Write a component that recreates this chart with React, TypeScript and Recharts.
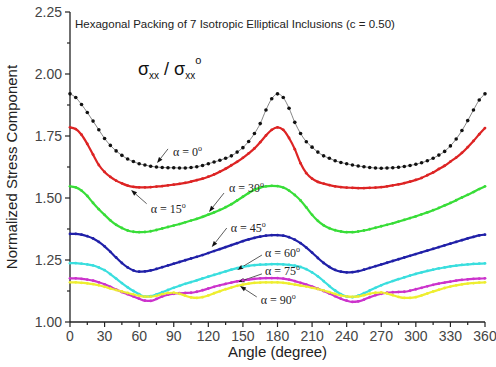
import React from "react";
import { LineChart, Line, XAxis, YAxis, ReferenceLine, Label } from "recharts";

// sample positions (degree)
const angles = [
  0, 5, 10, 15, 20, 25, 30, 35, 40, 45, 50, 55,
  60, 65, 70, 75, 80, 85, 90, 95, 100, 105, 110, 115,
  120, 125, 130, 135, 140, 145, 150, 155, 160, 165, 170, 175,
  180, 185, 190, 195, 200, 205, 210, 215, 220, 225, 230, 235,
  240, 245, 250, 255, 260, 265, 270, 275, 280, 285, 290, 295,
  300, 305, 310, 315, 320, 325, 330, 335, 340, 345, 350, 355,
  360,
];

const alpha0 = [
  1.92, 1.905, 1.877, 1.845, 1.81, 1.775, 1.74, 1.712, 1.69, 1.672, 1.657, 1.647,
  1.638, 1.633, 1.628, 1.625, 1.623, 1.622, 1.622, 1.621, 1.621, 1.623, 1.626, 1.631,
  1.638, 1.645, 1.652, 1.66, 1.67, 1.685, 1.703, 1.728, 1.76, 1.8, 1.855, 1.9,
  1.92, 1.905, 1.862, 1.805, 1.76, 1.727, 1.705, 1.685, 1.67, 1.66, 1.65, 1.643,
  1.638, 1.633, 1.629, 1.626, 1.623, 1.621, 1.62, 1.621, 1.622, 1.624, 1.627, 1.631,
  1.636, 1.642, 1.65, 1.66, 1.673, 1.688, 1.71, 1.738, 1.772, 1.812, 1.855, 1.895,
  1.92,
];

const alpha15 = [
  1.785, 1.778, 1.755, 1.718, 1.675, 1.633, 1.605, 1.585, 1.57, 1.559, 1.55, 1.545,
  1.543, 1.543, 1.544, 1.546, 1.548, 1.551, 1.554, 1.557, 1.561, 1.566, 1.572, 1.578,
  1.586, 1.595, 1.606, 1.618, 1.632, 1.646, 1.662, 1.68, 1.7, 1.725, 1.752, 1.775,
  1.785, 1.775, 1.742, 1.697, 1.64, 1.6, 1.578, 1.565, 1.558, 1.552, 1.547, 1.544,
  1.542, 1.541, 1.54, 1.54, 1.541, 1.542, 1.544, 1.547, 1.551, 1.555, 1.56, 1.566,
  1.573, 1.581, 1.592, 1.603, 1.617, 1.63, 1.647, 1.663, 1.682, 1.705, 1.73, 1.757,
  1.782,
];

const alpha30 = [
  1.547, 1.543, 1.53, 1.508, 1.48, 1.455, 1.432, 1.41, 1.392, 1.379, 1.369, 1.364,
  1.362, 1.363, 1.366, 1.371, 1.377, 1.383, 1.389, 1.395, 1.402, 1.409, 1.416, 1.424,
  1.433, 1.442, 1.452, 1.463, 1.475, 1.49, 1.505, 1.52, 1.533, 1.542, 1.547, 1.549,
  1.548, 1.542, 1.53, 1.512, 1.49, 1.462, 1.432, 1.408, 1.39, 1.378, 1.37, 1.365,
  1.362, 1.362, 1.365, 1.369, 1.374, 1.38, 1.386, 1.392, 1.398, 1.405, 1.412, 1.419,
  1.426, 1.434, 1.442, 1.451, 1.46, 1.47, 1.48, 1.491, 1.502, 1.513, 1.524, 1.536,
  1.547,
];

const alpha45 = [
  1.355, 1.355, 1.352, 1.346, 1.337, 1.323, 1.305, 1.283, 1.26, 1.238, 1.22, 1.208,
  1.203, 1.204, 1.208, 1.214, 1.221, 1.228, 1.235, 1.242, 1.249, 1.256, 1.263, 1.27,
  1.278, 1.286, 1.294, 1.302, 1.31, 1.318, 1.326, 1.333, 1.339, 1.344, 1.348, 1.35,
  1.35, 1.348, 1.342, 1.332, 1.318, 1.3, 1.28, 1.258, 1.238, 1.222, 1.21, 1.203,
  1.2, 1.201, 1.205, 1.211, 1.218, 1.225, 1.232, 1.239, 1.246, 1.253, 1.26, 1.267,
  1.274, 1.281, 1.288, 1.295, 1.302, 1.309, 1.316, 1.323, 1.33, 1.337, 1.343, 1.349,
  1.352,
];

const alpha60 = [
  1.237, 1.237, 1.235, 1.232, 1.228, 1.22, 1.209, 1.193, 1.175, 1.157, 1.14, 1.125,
  1.112, 1.102, 1.104, 1.111, 1.12, 1.129, 1.138, 1.146, 1.154, 1.161, 1.168, 1.176,
  1.183, 1.19, 1.197, 1.204, 1.211, 1.217, 1.222, 1.226, 1.229, 1.231, 1.232, 1.233,
  1.233, 1.232, 1.23, 1.227, 1.222, 1.213, 1.2, 1.184, 1.165, 1.145, 1.127, 1.112,
  1.103, 1.1, 1.106, 1.116, 1.127, 1.138, 1.148, 1.157, 1.165, 1.173, 1.18, 1.187,
  1.194, 1.2, 1.206, 1.211, 1.216, 1.22, 1.224, 1.227, 1.23, 1.232, 1.234, 1.235,
  1.236,
];

const alpha75 = [
  1.176, 1.176, 1.174, 1.171, 1.167, 1.16, 1.152, 1.142, 1.131, 1.121, 1.112, 1.103,
  1.094, 1.086, 1.085, 1.093, 1.103, 1.11, 1.114, 1.116, 1.117, 1.118, 1.122, 1.128,
  1.135, 1.142, 1.148, 1.154, 1.159, 1.164, 1.168, 1.171, 1.174, 1.176, 1.177, 1.177,
  1.177, 1.175, 1.171, 1.165, 1.158, 1.151, 1.143, 1.134, 1.125, 1.115, 1.104, 1.094,
  1.086, 1.081, 1.083, 1.09, 1.1, 1.108, 1.114, 1.118, 1.12, 1.121, 1.122, 1.126,
  1.132, 1.138, 1.144, 1.15, 1.155, 1.159, 1.163, 1.167, 1.17, 1.172, 1.174, 1.175,
  1.176,
];

const alpha90 = [
  1.16, 1.16, 1.158, 1.156, 1.153, 1.148, 1.142, 1.135, 1.129, 1.123, 1.117, 1.111,
  1.106, 1.102, 1.102, 1.106, 1.112, 1.117, 1.118, 1.114, 1.106, 1.099, 1.097, 1.1,
  1.107, 1.116, 1.124, 1.132, 1.139, 1.146, 1.151, 1.155, 1.158, 1.159, 1.16, 1.16,
  1.16, 1.158, 1.155, 1.151, 1.147, 1.143, 1.138, 1.133, 1.127, 1.12, 1.113, 1.107,
  1.103, 1.101, 1.103, 1.108, 1.114, 1.118, 1.119, 1.115, 1.108, 1.101, 1.097, 1.097,
  1.1, 1.107, 1.115, 1.123, 1.13, 1.137, 1.143, 1.148, 1.152, 1.155, 1.157, 1.159,
  1.16,
];

const xTicks = [0, 15, 30, 45, 60, 75, 90, 105, 120, 135, 150, 165, 180, 195, 210, 225, 240, 255, 270, 285, 300, 315, 330, 345, 360];
const yTicks = [1, 1.125, 1.25, 1.375, 1.5, 1.625, 1.75, 1.875, 2, 2.125, 2.25];

const series = [
  { key: "a0", values: alpha0, color: "#111111" },
  { key: "a15", values: alpha15, color: "#dd2424" },
  { key: "a30", values: alpha30, color: "#38dd38" },
  { key: "a45", values: alpha45, color: "#2020a8" },
  { key: "a60", values: alpha60, color: "#3adede" },
  { key: "a75", values: alpha75, color: "#cc33cc" },
  { key: "a90", values: alpha90, color: "#eeee30" },
];

// arrow labels: tail/head in data coords, text offset from tail in px
const notes = [
  { text: "0", tail: [85, 1.698], head: [75.5, 1.641], dx: 5, dy: 3 },
  { text: "15", tail: [66.5, 1.477], head: [53, 1.532], dx: 4, dy: 5 },
  { text: "30", tail: [133.6, 1.52], head: [120.6, 1.444], dx: 5, dy: -5 },
  { text: "45", tail: [136, 1.379], head: [123, 1.302], dx: 4, dy: 0 },
  { text: "60", tail: [166.5, 1.27], head: [145, 1.21], dx: 3, dy: -2 },
  { text: "75", tail: [166.5, 1.194], head: [146, 1.161], dx: 3, dy: -3 },
  { text: "90", tail: [162, 1.101], head: [147.5, 1.145], dx: 4, dy: 3 },
];

const data = angles.map((a, i) => {
  const row: any = { angle: a };
  series.forEach((s) => (row[s.key] = s.values[i]));
  return row;
});

const XTick = (p: any) => {
  const v = p.payload.value;
  const major = v % 30 === 0;
  return (
    <g>
      <line x1={p.x} x2={p.x} y1={p.y} y2={p.y + (major ? 5 : 3)} stroke="#222" strokeWidth={1.2} />
      {major && (
        <text x={p.x} y={p.y + 19} textAnchor="middle" fontSize={14} fill="#444" fontFamily="Liberation Sans, Arial">
          {v}
        </text>
      )}
    </g>
  );
};

const YTick = (p: any) => {
  const v = p.payload.value;
  const major = Math.abs(v * 4 - Math.round(v * 4)) < 1e-6;
  return (
    <g>
      <line x1={p.x} x2={p.x - (major ? 5 : 3)} y1={p.y} y2={p.y} stroke="#222" strokeWidth={1.2} />
      {major && (
        <text x={p.x - 8} y={p.y + 5} textAnchor="end" fontSize={14} fill="#444" fontFamily="Liberation Sans, Arial">
          {v.toFixed(2)}
        </text>
      )}
    </g>
  );
};

const Arrow = (p: any) => {
  const { x1, y1, x2, y2, note } = p;
  const a = Math.atan2(y2 - y1, x2 - x1);
  const bx = x2 - 6 * Math.cos(a);
  const by = y2 - 6 * Math.sin(a);
  const w = 2.2;
  const pts = `${x2},${y2} ${bx - w * Math.sin(a)},${by + w * Math.cos(a)} ${bx + w * Math.sin(a)},${by - w * Math.cos(a)}`;
  return (
    <g>
      <line x1={x1} y1={y1} x2={bx} y2={by} stroke="#333" strokeWidth={0.8} />
      <polygon points={pts} fill="#111" />
      <text x={x1 + note.dx} y={y1 + note.dy + 4} fontSize={12} fontFamily="Liberation Serif, Times New Roman" fill="#222">
        α = {note.text}
        <tspan fontSize={8} dy={-5}>o</tspan>
      </text>
    </g>
  );
};

export default function App() {
  return (
    <div style={{ position: "absolute", left: 0, top: 0, width: 496, height: 367, background: "#fff" }}>
      <LineChart width={496} height={367} data={data} margin={{ top: 12, right: 11, left: 0, bottom: 0 }}>
        <XAxis
          dataKey="angle"
          type="number"
          domain={[0, 360]}
          ticks={xTicks}
          interval={0}
          height={45}
          tickSize={0}
          tickMargin={0}
          tickLine={false}
          tick={<XTick />}
          axisLine={{ stroke: "#222", strokeWidth: 1.3 }}
        >
          <Label value="Angle (degree)" position="insideBottom" offset={10} fontSize={15} fill="#222" fontFamily="Liberation Sans, Arial" />
        </XAxis>
        <XAxis xAxisId="top" orientation="top" dataKey="angle" type="number" domain={[0, 360]} height={0} tick={false} tickLine={false} axisLine={{ stroke: "#222", strokeWidth: 1.3 }} />
        <YAxis
          type="number"
          domain={[1, 2.25]}
          ticks={yTicks}
          interval={0}
          width={70}
          tickSize={0}
          tickMargin={0}
          tickLine={false}
          tick={<YTick />}
          axisLine={{ stroke: "#222", strokeWidth: 1.3 }}
        >
          <Label value="Normalized Stress Component" angle={-90} position="insideLeft" offset={12} fontSize={15} fill="#222" fontFamily="Liberation Sans, Arial" style={{ textAnchor: "middle" }} />
        </YAxis>
        <YAxis yAxisId="r" orientation="right" type="number" domain={[1, 2.25]} width={0} tick={false} tickLine={false} axisLine={{ stroke: "#222", strokeWidth: 1.3 }} />
        {series.map((s, i) => (
          <Line
            key={s.key}
            dataKey={s.key}
            type="monotone"
            stroke={i === 0 ? "#666" : s.color}
            strokeWidth={i === 0 ? 0.8 : 2.2}
            dot={{ r: i === 0 ? 1.8 : 1.4, fill: s.color, stroke: "none" }}
            isAnimationActive={false}
          />
        ))}
        {notes.map((n) => (
          <ReferenceLine
            key={n.text}
            segment={[
              { x: n.tail[0], y: n.tail[1] },
              { x: n.head[0], y: n.head[1] },
            ]}
            shape={(p: any) => <Arrow {...p} note={n} />}
          />
        ))}
      </LineChart>
      <svg width={496} height={367} style={{ position: "absolute", left: 0, top: 0, pointerEvents: "none" }}>
        <text x={75} y={28} fontSize={11.5} fill="#222" fontFamily="Liberation Sans, Arial">
          Hexagonal Packing of 7 Isotropic Elliptical Inclusions (c = 0.50)
        </text>
        <text x={138} y={75} fontSize={18} fill="#111" fontFamily="Liberation Sans, Arial">
          σ<tspan fontSize={10} dy={4}>xx</tspan>
          <tspan fontSize={18} dy={-4}> / σ</tspan>
          <tspan fontSize={10} dy={4}>xx</tspan>
          <tspan fontSize={11} dy={-15}>o</tspan>
        </text>
      </svg>
    </div>
  );
}
